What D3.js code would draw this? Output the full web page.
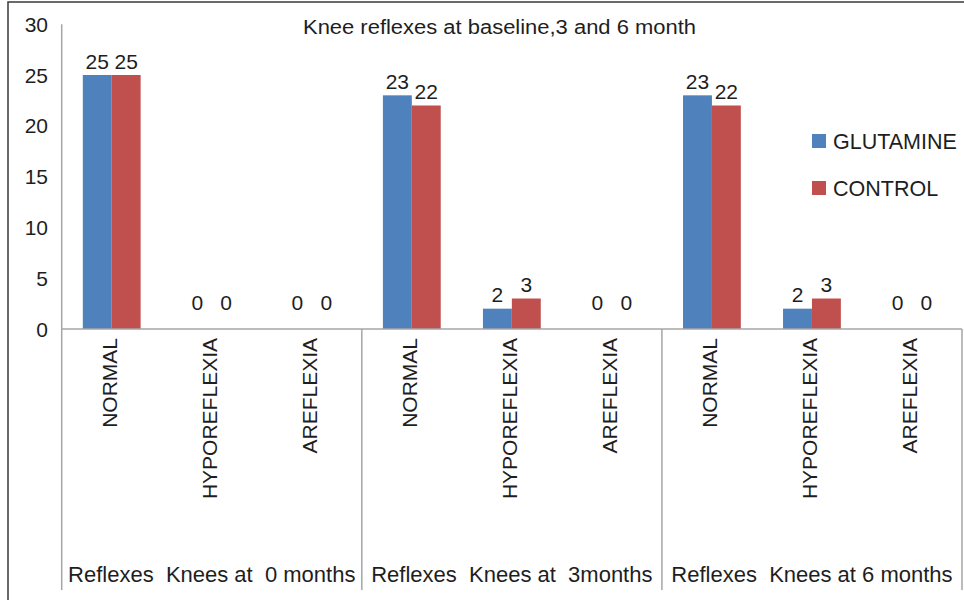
<!DOCTYPE html>
<html>
<head>
<meta charset="utf-8">
<script src="https://cdn.jsdelivr.net/npm/d3@7"></script>
<style>
  html, body { margin: 0; padding: 0; background: #fff; }
  svg { display: block; font-family: Arial, "Liberation Sans", sans-serif; }
</style>
</head>
<body>
<svg id="chart" width="964" height="600"></svg>
<script>
// ---- data ----
const title = "Knee reflexes at baseline,3 and 6 month";
const groups = ["Reflexes  Knees at  0 months", "Reflexes  Knees at  3months", "Reflexes  Knees at 6 months"];
const subcategories = ["NORMAL", "HYPOREFLEXIA", "AREFLEXIA"];
const seriesNames = ["GLUTAMINE", "CONTROL"];
const glutamine = [25, 0, 0, 23, 2, 0, 23, 2, 0];
const control   = [25, 0, 0, 22, 3, 0, 22, 3, 0];
const yTicks = [0, 5, 10, 15, 20, 25, 30];
const colors = ["#4F81BD", "#C0504D"];

// ---- build ----
const rows = [];
groups.forEach((g, gi) => subcategories.forEach((s, si) => {
  const i = gi * subcategories.length + si;
  rows.push({ key: gi + "-" + s, group: g, gi, label: s, values: [glutamine[i], control[i]] });
}));

const svg = d3.select("#chart");
const pLeft = 61.7, pRight = 962, pTop = 24.2, pBottom = 329, axisBottom = 590;

const x = d3.scaleBand().domain(rows.map(r => r.key)).range([pLeft, pRight]).padding(0);
const xs = d3.scaleBand().domain(seriesNames).range([0, x.bandwidth()]).paddingInner(0).paddingOuter(0.73);
const y = d3.scaleLinear().domain([0, 30]).range([pBottom, pTop]);
const gx = d3.scaleBand().domain(groups).range([pLeft, pRight]);

// frame
svg.append("rect").attr("x", 8).attr("y", 2).attr("width", 1000).attr("height", 700)
  .attr("fill", "none").attr("stroke", "#3a3a3a").attr("stroke-width", 1.5);

const gray = "#a6a6a6";
const ink = "#1e1e1e";

// y tick labels
svg.append("g").selectAll("text").data(yTicks).join("text")
  .attr("x", 48).attr("y", d => y(d)).attr("dy", "0.36em")
  .attr("text-anchor", "end").attr("font-size", 21).attr("fill", ink)
  .text(d => d);

// bars
const bars = svg.append("g");
rows.forEach(r => {
  r.values.forEach((v, si) => {
    bars.append("rect")
      .attr("x", x(r.key) + xs(seriesNames[si]))
      .attr("width", xs.bandwidth())
      .attr("y", y(v))
      .attr("height", y(0) - y(v))
      .attr("fill", colors[si]);
  });
});

// data labels
const labels = svg.append("g").attr("font-size", 21).attr("fill", ink).attr("text-anchor", "middle");
rows.forEach(r => {
  r.values.forEach((v, si) => {
    labels.append("text")
      .attr("x", x(r.key) + xs(seriesNames[si]) + xs.bandwidth() / 2)
      .attr("y", v > 0 ? y(v) - 6.5 : y(0) - 19.5)
      .text(v);
  });
});

// axes lines
svg.append("line").attr("x1", pLeft).attr("x2", pLeft).attr("y1", pTop).attr("y2", axisBottom)
  .attr("stroke", gray).attr("stroke-width", 1.5);
svg.append("line").attr("x1", pLeft).attr("x2", pRight).attr("y1", pBottom).attr("y2", pBottom)
  .attr("stroke", gray).attr("stroke-width", 1.5);
// group separators
svg.append("g").selectAll("line").data(groups).join("line")
  .attr("x1", d => gx(d) + gx.bandwidth()).attr("x2", d => gx(d) + gx.bandwidth())
  .attr("y1", pBottom).attr("y2", axisBottom)
  .attr("stroke", gray).attr("stroke-width", 1.5);

// category labels (rotated)
svg.append("g").selectAll("text").data(rows).join("text")
  .attr("transform", d => `translate(${x(d.key) + x.bandwidth() / 2},338) rotate(-90)`)
  .attr("dy", "0.25em")
  .attr("text-anchor", "end").attr("font-size", 21).attr("fill", ink)
  .text(d => d.label);

// group labels
svg.append("g").selectAll("text").data(groups).join("text")
  .attr("x", d => gx(d) + gx.bandwidth() / 2).attr("y", 582)
  .attr("text-anchor", "middle").attr("font-size", 22).attr("fill", ink)
  .style("white-space", "pre").attr("xml:space", "preserve")
  .text(d => d);

// title
svg.append("text").attr("x", 499.5).attr("y", 34).attr("text-anchor", "middle")
  .attr("font-size", 20).attr("fill", ink)
  .attr("textLength", 393).attr("lengthAdjust", "spacingAndGlyphs")
  .text(title);

// legend
const leg = svg.append("g");
seriesNames.forEach((s, i) => {
  leg.append("rect").attr("x", 812).attr("y", 134 + i * 47).attr("width", 14).attr("height", 14).attr("fill", colors[i]);
  leg.append("text").attr("x", 833).attr("y", 149 + i * 47).attr("font-size", 21.5).attr("fill", ink).text(s);
});
</script>
</body>
</html>
